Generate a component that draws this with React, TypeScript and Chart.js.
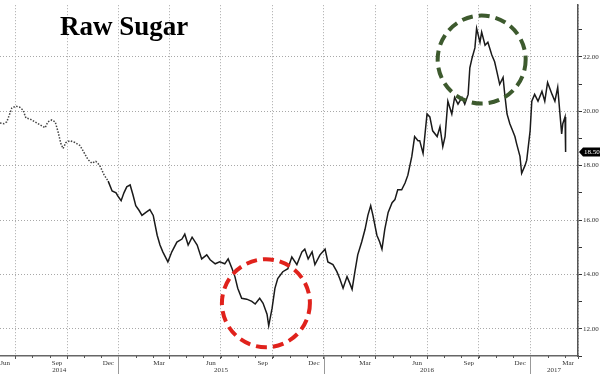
import React, { useEffect, useRef } from 'react';
import { Chart, registerables } from 'chart.js';

Chart.register(...registerables);

const TITLE = 'Raw Sugar';

const DATES = [
  '2014-05-05','2014-05-12','2014-05-17','2014-05-21','2014-05-26','2014-06-02','2014-06-09','2014-06-15','2014-06-20','2014-06-27',
  '2014-07-06','2014-07-15','2014-07-24','2014-07-29','2014-08-05','2014-08-11','2014-08-16','2014-08-21','2014-08-25','2014-08-30',
  '2014-09-06','2014-09-15','2014-09-24','2014-10-01','2014-10-08','2014-10-15','2014-10-22','2014-10-29','2014-11-06','2014-11-13',
  '2014-11-20','2014-11-27','2014-11-30','2014-12-06','2014-12-11','2014-12-16','2014-12-22','2014-12-27','2015-01-01','2015-01-07',
  '2015-01-12','2015-01-19','2015-01-26','2015-02-01','2015-02-08','2015-02-13','2015-02-18','2015-02-27','2015-03-06','2015-03-15',
  '2015-03-24','2015-03-29','2015-04-04','2015-04-11','2015-04-20','2015-04-28','2015-05-07','2015-05-13','2015-05-22','2015-05-30',
  '2015-06-08','2015-06-14','2015-06-21','2015-06-26','2015-07-01','2015-07-08','2015-07-17','2015-07-26','2015-08-01','2015-08-09',
  '2015-08-15','2015-08-22','2015-08-25','2015-08-31','2015-09-05','2015-09-10','2015-09-19','2015-09-28','2015-10-05','2015-10-14',
  '2015-10-23','2015-10-28','2015-11-03','2015-11-10','2015-11-15','2015-11-24','2015-12-03','2015-12-08','2015-12-17','2015-12-24',
  '2015-12-29','2016-01-04','2016-01-11','2016-01-16','2016-01-20','2016-01-25','2016-01-30','2016-02-06','2016-02-12','2016-02-17',
  '2016-02-22','2016-02-26','2016-03-04','2016-03-09','2016-03-13','2016-03-18','2016-03-24','2016-03-31','2016-04-05','2016-04-10',
  '2016-04-17','2016-04-23','2016-04-28','2016-05-05','2016-05-10','2016-05-16','2016-05-19','2016-05-25','2016-06-01','2016-06-06',
  '2016-06-11','2016-06-19','2016-06-24','2016-06-29','2016-07-03','2016-07-08','2016-07-15','2016-07-20','2016-07-26','2016-08-02',
  '2016-08-07','2016-08-13','2016-08-16','2016-08-20','2016-08-25','2016-08-28','2016-09-03','2016-09-06','2016-09-12','2016-09-17',
  '2016-09-24','2016-09-29','2016-10-03','2016-10-08','2016-10-14','2016-10-17','2016-10-21','2016-10-26','2016-10-31','2016-11-04',
  '2016-11-07','2016-11-13','2016-11-16','2016-11-22','2016-11-25','2016-12-01','2016-12-04','2016-12-09','2016-12-15','2016-12-22',
  '2016-12-27','2017-01-01','2017-01-09','2017-01-14','2017-01-19','2017-01-23','2017-01-26','2017-01-28','2017-02-01','2017-02-02',
];

const PRICES = [
  19.57, 19.54, 19.61, 19.83, 20.12, 20.19, 20.15, 20.04, 19.75, 19.72,
  19.61, 19.50, 19.39, 19.61, 19.68, 19.61, 19.25, 18.81, 18.63, 18.85,
  18.92, 18.85, 18.74, 18.49, 18.23, 18.09, 18.16, 18.01, 17.65, 17.43,
  17.07, 17.00, 16.89, 16.71, 17.00, 17.22, 17.29, 16.93, 16.53, 16.35,
  16.17, 16.28, 16.38, 16.17, 15.44, 15.08, 14.83, 14.46, 14.83, 15.19,
  15.30, 15.48, 15.08, 15.37, 15.08, 14.57, 14.72, 14.54, 14.39, 14.46,
  14.39, 14.57, 14.21, 13.92, 13.49, 13.12, 13.09, 13.01, 12.91, 13.12,
  12.94, 12.54, 12.11, 12.76, 13.49, 13.85, 14.10, 14.21, 14.64, 14.36,
  14.83, 14.93, 14.57, 14.83, 14.36, 14.72, 14.93, 14.46, 14.36, 14.10,
  13.85, 13.49, 13.92, 13.67, 13.45, 14.10, 14.72, 15.19, 15.66, 16.17,
  16.53, 16.17, 15.44, 15.19, 14.93, 15.66, 16.28, 16.64, 16.75, 17.11,
  17.11, 17.36, 17.65, 18.34, 19.07, 18.92, 18.92, 18.45, 19.90, 19.79,
  19.28, 19.07, 19.43, 18.70, 19.07, 20.37, 19.90, 20.51, 20.26, 20.51,
  20.26, 20.62, 21.60, 21.96, 22.33, 23.05, 22.54, 22.91, 22.43, 22.54,
  22.07, 21.82, 21.46, 20.99, 21.24, 20.62, 19.90, 19.54, 19.28, 19.07,
  18.81, 18.34, 17.72, 18.01, 18.20, 19.28, 20.37, 20.62, 20.37, 20.73,
  20.37, 21.06, 20.62, 20.37, 20.88, 19.90, 19.17, 19.54, 19.79, 18.50,
];

const X_MIN = '2014-05-05';
const X_MAX = '2017-02-24';
const X_TICK_DATES = [
  '2014-06-01','2014-09-01','2014-12-01','2015-03-01','2015-06-01','2015-09-01',
  '2015-12-01','2016-03-01','2016-06-01','2016-09-01','2016-12-01','2017-02-24',
];
const X_TICK_LABELS = ['Jun','Sep','Dec','Mar','Jun','Sep','Dec','Mar','Jun','Sep','Dec','Mar'];
const YEAR_LABELS = ['2014', '2015', '2016', '2017'];
const YEAR_BREAKS = ['2014-12-01', '2015-12-01', '2016-12-01'];
const Y_MIN = 11;
const Y_MAX = 23.9;
const DOTTED_UNTIL = '2014-11-10';

const HIGHLIGHTS = [
  { date: '2015-08-20', price: 12.94, color: '#e0221c' },
  { date: '2016-09-06', price: 21.9, color: '#3d5a2e' },
];

const ms = (s: string) => Date.parse(s + 'T00:00:00Z');
const SERIF = '"Liberation Serif", "Times New Roman", serif';

const overlayPlugin = {
  id: 'overlay',
  afterDatasetsDraw(chart: any) {
    const { ctx, scales } = chart;
    const x = scales.x;
    const y = scales.y;
    ctx.save();
    HIGHLIGHTS.forEach((h) => {
      const cx = x.getPixelForValue(ms(h.date));
      const cy = y.getPixelForValue(h.price);
      ctx.beginPath();
      ctx.setLineDash([11, 6]);
      ctx.lineWidth = 4;
      ctx.strokeStyle = h.color;
      ctx.arc(cx, cy, 44, 0, Math.PI * 2);
      ctx.stroke();
    });
    ctx.restore();
  },
  afterDraw(chart: any) {
    const { ctx, scales, chartArea } = chart;
    const x = scales.x;
    const y = scales.y;
    ctx.save();
    ctx.strokeStyle = '#555';
    ctx.lineWidth = 1;
    const start = new Date(ms(X_MIN));
    const end = ms(X_MAX);
    const d = new Date(Date.UTC(start.getUTCFullYear(), start.getUTCMonth() + 1, 1));
    while (d.getTime() < end) {
      const px = Math.round(x.getPixelForValue(d.getTime())) + 0.5;
      ctx.beginPath();
      ctx.moveTo(px, chartArea.bottom);
      ctx.lineTo(px, chartArea.bottom + 2);
      ctx.stroke();
      d.setUTCMonth(d.getUTCMonth() + 1);
    }
    const bounds = [chartArea.left, ...YEAR_BREAKS.map((b) => x.getPixelForValue(ms(b))), chartArea.right];
    ctx.strokeStyle = '#999';
    YEAR_BREAKS.forEach((b) => {
      const px = Math.round(x.getPixelForValue(ms(b))) + 0.5;
      ctx.beginPath();
      ctx.moveTo(px, chartArea.bottom);
      ctx.lineTo(px, chart.height);
      ctx.stroke();
    });
    ctx.fillStyle = '#333';
    ctx.font = `7px ${SERIF}`;
    ctx.textAlign = 'center';
    ctx.textBaseline = 'middle';
    YEAR_LABELS.forEach((lab, i) => {
      ctx.fillText(lab, (bounds[i] + bounds[i + 1]) / 2, chartArea.bottom + 14);
    });
    const last = PRICES[PRICES.length - 1];
    const py = y.getPixelForValue(last);
    const ax = chartArea.right + 1;
    ctx.fillStyle = '#000';
    ctx.beginPath();
    ctx.moveTo(ax, py);
    ctx.lineTo(ax + 4, py - 4.5);
    ctx.lineTo(chart.width, py - 4.5);
    ctx.lineTo(chart.width, py + 4.5);
    ctx.lineTo(ax + 4, py + 4.5);
    ctx.closePath();
    ctx.fill();
    ctx.fillStyle = '#fff';
    ctx.textAlign = 'left';
    ctx.font = `7px ${SERIF}`;
    ctx.fillText(last.toFixed(2), ax + 5, py + 0.5);
    ctx.fillStyle = '#000';
    ctx.font = `bold 27px ${SERIF}`;
    ctx.textAlign = 'left';
    ctx.textBaseline = 'alphabetic';
    ctx.fillText(TITLE, 60, 35);
    ctx.restore();
  },
};

export default function App() {
  const ref = useRef<HTMLCanvasElement | null>(null);
  useEffect(() => {
    if (!ref.current) return;
    const dottedMs = ms(DOTTED_UNTIL);
    const chart = new Chart(ref.current, {
      type: 'line',
      data: {
        datasets: [
          {
            label: TITLE,
            data: DATES.map((d, i) => ({ x: ms(d), y: PRICES[i] })),
            borderColor: '#1a1a1a',
            borderWidth: 1.5,
            pointRadius: 0,
            tension: 0,
            segment: {
              borderDash: (c: any) => (c.p0.parsed.x < dottedMs ? [1.5, 1.5] : undefined),
              borderColor: (c: any) => (c.p0.parsed.x < dottedMs ? '#444' : undefined),
            },
          },
        ],
      },
      options: {
        animation: false,
        responsive: false,
        layout: { padding: 0 },
        plugins: { legend: { display: false }, tooltip: { enabled: false }, title: { display: false } },
        scales: {
          x: {
            type: 'linear',
            min: ms(X_MIN),
            max: ms(X_MAX),
            afterBuildTicks: (s: any) => {
              s.ticks = X_TICK_DATES.map((d) => ({ value: ms(d) }));
            },
            afterFit: (s: any) => {
              s.height = 18;
            },
            ticks: {
              autoSkip: false,
              maxRotation: 0,
              minRotation: 0,
              padding: 0,
              labelOffset: -10,
              color: '#333',
              font: { family: SERIF, size: 7 },
              callback: (_v: any, i: number) => X_TICK_LABELS[i],
            },
            grid: { color: '#a8a8a8', lineWidth: 1, tickLength: 3, tickColor: '#555', tickBorderDash: [] },
            border: { display: true, color: '#666', width: 1.5, dash: [1, 2] },
          },
          y: {
            type: 'linear',
            position: 'right',
            min: Y_MIN,
            max: Y_MAX,
            afterFit: (s: any) => {
              s.width = 22;
            },
            ticks: {
              stepSize: 1,
              includeBounds: false,
              padding: 1,
              color: '#333',
              font: { family: SERIF, size: 7 },
              callback: (v: any) => (Number(v) % 2 === 0 ? Number(v).toFixed(2) : ''),
            },
            grid: {
              color: (c: any) => (c.tick && Number(c.tick.value) % 2 === 0 ? '#a8a8a8' : 'rgba(0,0,0,0)'),
              lineWidth: 1,
              tickLength: 4,
              tickColor: '#333',
              tickBorderDash: [],
            },
            border: { display: true, color: '#555', width: 1.5, dash: [1, 2] },
          },
        },
      },
      plugins: [overlayPlugin],
    });
    return () => chart.destroy();
  }, []);
  return (
    <canvas
      ref={ref}
      width={600}
      height={374}
      style={{ position: 'absolute', left: 0, top: 0, width: 600, height: 374, background: '#fff' }}
    />
  );
}
